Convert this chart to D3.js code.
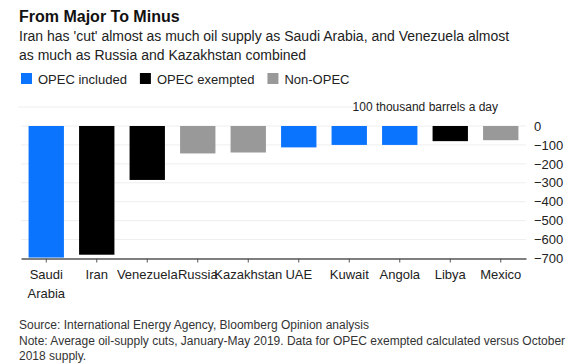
<!DOCTYPE html>
<html><head><meta charset="utf-8">
<script src="https://cdn.jsdelivr.net/npm/d3@7"></script>
<style>
body{margin:0;background:#fff;}
svg text{font-family:"Liberation Sans",Arial,sans-serif;}
</style></head>
<body><svg id="c" width="588" height="364"></svg>
<script>
const categories = ["Saudi Arabia","Iran","Venezuela","Russia","Kazakhstan","UAE","Kuwait","Angola","Libya","Mexico"];
const values = [-695,-680,-285,-145,-140,-113,-100,-100,-80,-75];
const groups = ["OPEC included","OPEC exempted","OPEC exempted","Non-OPEC","Non-OPEC","OPEC included","OPEC included","OPEC included","OPEC exempted","Non-OPEC"];
const legendLabels = ["OPEC included","OPEC exempted","Non-OPEC"];
const colors = ["#0a74ff","#000000","#999999"];
const yTicks = [0,-100,-200,-300,-400,-500,-600,-700];

const svg = d3.select("#c");
const color = d3.scaleOrdinal().domain(legendLabels).range(colors);
const x = d3.scaleBand().domain(categories).range([21,526]).paddingInner(0.3).paddingOuter(0.15);
const y = d3.scaleLinear().domain([0,-700]).range([126,258.5]);

// title
svg.append("text").attr("x",19).attr("y",22).attr("font-size",16).attr("font-weight","bold").attr("fill","#111").text("From Major To Minus");
const sub = ["Iran has 'cut' almost as much oil supply as Saudi Arabia, and Venezuela almost","as much as Russia and Kazakhstan combined"];
sub.forEach((s,i)=>svg.append("text").attr("x",19).attr("y",41+i*19).attr("font-size",14).attr("fill","#222").text(s));

// legend
let lx = 21;
const lg = svg.append("g");
legendLabels.forEach((l,i)=>{
  lg.append("rect").attr("x",lx).attr("y",73).attr("width",11).attr("height",11).attr("fill",colors[i]);
  const t = lg.append("text").attr("x",lx+17).attr("y",83.5).attr("font-size",13).attr("fill","#222").text(l);
  lx += 17 + t.node().getComputedTextLength() + 13;
});

// unit label
svg.append("line").attr("x1",18).attr("x2",356).attr("y1",107).attr("y2",107).attr("stroke","#eee");
svg.append("text").attr("x",498).attr("y",111).attr("text-anchor","end").attr("font-size",12).attr("fill","#222").text("100 thousand barrels a day");

// grid
svg.append("g").selectAll("line").data(yTicks.slice(0,-1)).join("line")
  .attr("x1",21).attr("x2",526).attr("y1",d=>y(d)).attr("y2",d=>y(d)).attr("stroke","#eeeeee");

// y axis
const ya = svg.append("g").attr("transform","translate(534,0)")
  .call(d3.axisRight(y).tickValues(yTicks).tickSize(0).tickPadding(0).tickFormat(d3.format("d")));
ya.select(".domain").remove();
ya.selectAll("text").attr("font-size",13).attr("fill","#222").attr("font-family","Liberation Sans,Arial,sans-serif");

// bars
svg.append("g").selectAll("rect").data(categories).join("rect")
  .attr("x",d=>x(d)).attr("width",x.bandwidth())
  .attr("y",y(0)).attr("height",(d,i)=>y(values[i])-y(0))
  .attr("fill",(d,i)=>color(groups[i]));

// x axis
const xa = svg.append("g").attr("transform",`translate(0,${y(-700)})`)
  .call(d3.axisBottom(x).tickSize(4).tickSizeOuter(0).tickPadding(7));
xa.select(".domain").attr("stroke","#555").attr("stroke-width",1.3);
xa.selectAll(".tick line").attr("stroke","#555");
xa.selectAll("text").attr("font-size",13).attr("fill","#222").attr("font-family","Liberation Sans,Arial,sans-serif")
  .each(function(d){
    const t = d3.select(this);
    if(d==="Saudi Arabia"){
      t.text(null);
      t.append("tspan").attr("x",0).attr("dy","0.71em").text("Saudi");
      t.append("tspan").attr("x",0).attr("dy","1.45em").text("Arabia");
      t.attr("dy",null);
    }
  });

// footer
const foot = ["Source: International Energy Agency, Bloomberg Opinion analysis","Note: Average oil-supply cuts, January-May 2019. Data for OPEC exempted calculated versus October","2018 supply."];
foot.forEach((s,i)=>svg.append("text").attr("x",19).attr("y",329+i*15.5).attr("font-size",12).attr("fill","#333").text(s));
</script></body></html>
